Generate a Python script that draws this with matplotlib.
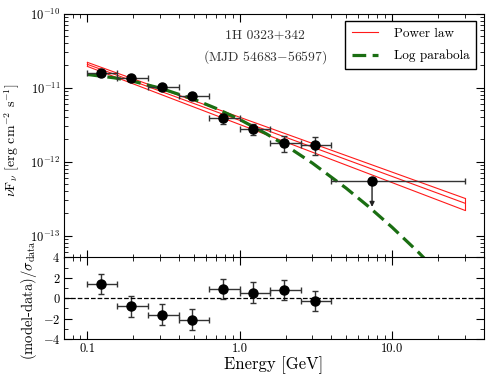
import numpy as np
import matplotlib
matplotlib.use("Agg")
import matplotlib.pyplot as plt

plt.rcParams.update({
    "font.family": "serif",
    "font.serif": ["cmr10", "DejaVu Serif"],
    "mathtext.fontset": "cm",
    "axes.unicode_minus": False,
    "axes.formatter.use_mathtext": True,
    "xtick.direction": "in", "ytick.direction": "in",
    "xtick.top": True, "ytick.right": True,
    "xtick.major.size": 6, "ytick.major.size": 6,
    "xtick.minor.size": 3, "ytick.minor.size": 3,
    "ytick.major.pad": 2.5,
    "font.size": 9,
})

# Fermi-LAT bins
E      = [0.122, 0.194, 0.309, 0.488, 0.773, 1.23, 1.95, 3.1]
E_lo   = [0.100, 0.157, 0.250, 0.398, 0.631, 1.00, 1.585, 2.51]
E_hi   = [0.157, 0.250, 0.398, 0.631, 1.00, 1.585, 2.51, 3.98]
flux   = [1.58e-11, 1.35e-11, 1.02e-11, 7.8e-12, 3.85e-12, 2.79e-12, 1.79e-12, 1.68e-12]
f_lo   = [1.52e-11, 1.29e-11, 0.96e-11, 7.2e-12, 3.27e-12, 2.30e-12, 1.35e-12, 1.23e-12]
f_hi   = [1.64e-11, 1.41e-11, 1.08e-11, 8.4e-12, 4.40e-12, 3.27e-12, 2.20e-12, 2.15e-12]
resid  = [1.4, -0.8, -1.6, -2.1, 0.9, 0.55, 0.8, -0.3]
res_err = [1.0, 1.0, 1.0, 1.0, 1.0, 1.0, 1.0, 1.0]

# upper limit bin
ul_E, ul_lo, ul_hi = 7.4, 4.0, 30.0
ul_flux, ul_arrow_end = 5.5e-13, 2.24e-13

# power law: best fit and butterfly edges (endpoints 0.1 and 30 GeV)
pl_E     = [0.1, 30.0]
pl_mid   = [2.07e-11, 2.75e-13]
pl_upper = [2.20e-11, 3.20e-13]
pl_lower = [1.94e-11, 2.20e-13]

# log parabola
lp_E = [0.1, 0.15, 0.2, 0.3, 0.5, 0.7, 1.0, 1.5, 2.0, 3.0, 5.0, 7.0, 10.0, 15.0, 20.0]
lp_F = [1.51e-11, 1.36e-11, 1.22e-11, 9.87e-12, 6.97e-12, 5.25e-12, 3.72e-12, 2.37e-12,
        1.66e-12, 9.57e-13, 4.38e-13, 2.48e-13, 1.30e-13, 5.89e-14, 3.2e-14]

E_a = np.array(E); xerr = [E_a - np.array(E_lo), np.array(E_hi) - E_a]
F_a = np.array(flux); yerr = [F_a - np.array(f_lo), np.array(f_hi) - F_a]

fig = plt.figure(figsize=(4.91, 3.82), dpi=100)
ax = fig.add_axes([0.130, 0.325, 0.855, 0.639])
axr = fig.add_axes([0.130, 0.1126, 0.855, 0.2134], sharex=ax)

RED = "#ff1a1a"; GRN = "#1a6e12"
ax.plot(pl_E, pl_mid, color=RED, lw=0.8, label="Power law")
ax.plot(pl_E, pl_upper, color=RED, lw=0.8)
ax.plot(pl_E, pl_lower, color=RED, lw=0.8)
for i in (0, 1):
    ax.plot([pl_E[i], pl_E[i]], [pl_lower[i], pl_upper[i]], color=RED, lw=0.8)
ax.plot(lp_E, lp_F, color=GRN, lw=2.3, ls=(0, (4.3, 2.0)), label="Log parabola")

ekw = dict(fmt="o", color="black", ms=6.5, ecolor="#333333", elinewidth=1.0, capsize=2.2, capthick=1.0)
ax.errorbar(E, flux, xerr=xerr, yerr=yerr, zorder=5, **ekw)
ax.errorbar([ul_E], [ul_flux], xerr=[[ul_E - ul_lo], [ul_hi - ul_E]], zorder=5, **ekw)
ax.annotate("", xy=(ul_E, ul_arrow_end), xytext=(ul_E, ul_flux),
            arrowprops=dict(arrowstyle="-|>", color="#222222", lw=1.0, mutation_scale=7))

ax.set_xscale("log"); ax.set_yscale("log")
ax.set_xlim(0.07, 40); ax.set_ylim(5e-14, 1e-10)
ax.set_ylabel(r"$\nu$F$_\nu$ [erg cm$^{-2}$ s$^{-1}$]", fontsize=10)
ax.yaxis.set_label_coords(-0.100, 0.484)
ax.tick_params(labelbottom=False)
ax.text(0.479, 0.935, "1H 0323+342\n(MJD 54683$-$56597)", transform=ax.transAxes,
        ha="center", va="top", fontsize=9.8, color="#333333", linespacing=1.5)
leg = ax.legend(loc="upper right", fontsize=9.5, fancybox=False, edgecolor="black",
                framealpha=1, borderaxespad=0.55, handlelength=2.0, handletextpad=1.2,
                labelspacing=0.75, borderpad=0.5)
leg.get_frame().set_linewidth(1.0)

axr.errorbar(E, resid, xerr=xerr, yerr=res_err, **ekw)
axr.axhline(0, color="black", ls="--", lw=0.9)
axr.set_ylim(-4, 4); axr.set_yticks([-4, -2, 0, 2, 4])
axr.set_yticks([-3, -1, 1, 3], minor=True)
axr.set_xticks([0.1, 1.0, 10.0]); axr.set_xticklabels(["0.1", "1.0", "10.0"])
axr.tick_params(axis="x", pad=3)
axr.set_xlabel("Energy [GeV]", fontsize=12, labelpad=1)
axr.set_ylabel(r"(model-data)/$\sigma_{\rm data}$", fontsize=10.5)
axr.yaxis.set_label_coords(-0.060, 0.48)

fig.savefig("out.png", dpi=100)
